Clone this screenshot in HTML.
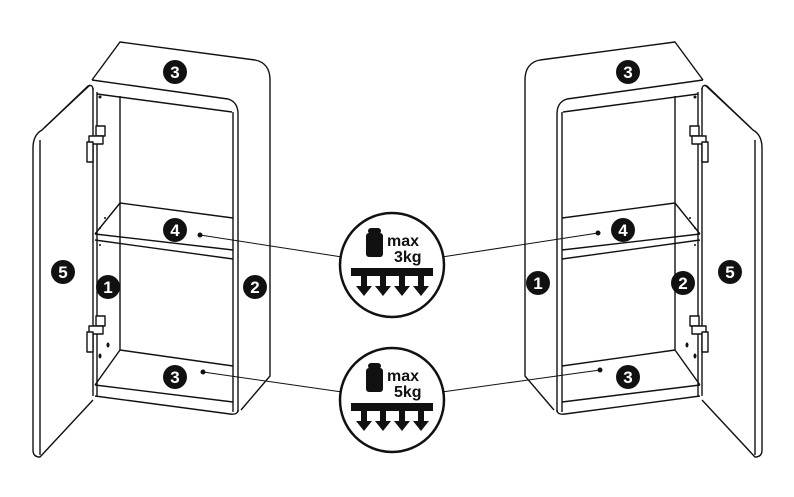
<!DOCTYPE html>
<html><head><meta charset="utf-8"><style>
html,body{margin:0;padding:0;background:#fff;width:794px;height:497px;overflow:hidden}
svg{display:block}
text{font-family:"Liberation Sans",sans-serif;font-weight:bold}
</style></head><body>
<svg width="794" height="497" viewBox="0 0 794 497" xmlns="http://www.w3.org/2000/svg">
<defs>
<g id="cab" fill="none" stroke="#111" stroke-width="1.4" stroke-linejoin="round">
  <path d="M92,80 L120,42 L255,60 Q270,63 270,80 L270,376 L241,410"/>
  <path d="M92,80 L228,99 Q238,102 238,114"/>
  <path d="M97,94 L232,112"/>
  <path d="M233,112 L233,412 M238,114 L238,412"/>
  <path d="M120,96 L120,350"/>
  <path d="M120,203 L233,218 M95,234 L120,203 M95,234 L233,250 M95,240 L233,259"/>
  <path d="M120,350 L233,366 M95,385 L120,350 M95,385 L233,402 M95,396 L230,414 Q238,415 238,410"/>
  <path d="M93,88 L93,396 M97,92 L97,396"/>
  <path d="M33,148 Q33,135 42,130 L88,86 Q93,84 93,90"/>
  <path d="M33,148 L33,450 Q33,457 40,457 L93,400"/>
  <path d="M40,140 L40,455"/>
  <path d="M44,128 L90,85"/>
  <g fill="#fff">
    <rect x="96" y="126" width="9" height="10"/><rect x="89" y="136" width="14" height="8"/><rect x="87" y="142" width="6" height="20"/>
    <rect x="96" y="316" width="9" height="10"/><rect x="89" y="326" width="14" height="8"/><rect x="87" y="332" width="6" height="20"/>
  </g>
  <g fill="#111" stroke="none">
    <circle cx="100" cy="97" r="1.5"/><circle cx="105" cy="218" r="1"/><circle cx="100" cy="228" r="1"/><circle cx="100" cy="245" r="1"/>
    <ellipse cx="108" cy="345" rx="1.5" ry="2.5"/><ellipse cx="100" cy="356" rx="1.5" ry="2.5"/>
  </g>
</g>
<g id="wt">
  <circle r="52" fill="#fff" stroke="#111" stroke-width="2.5"/>
  <rect x="-26" y="-32" width="17" height="24" rx="3" fill="#111"/>
  <rect x="-24" y="-37" width="13" height="6" rx="3" fill="#111"/>
  <rect x="-41" y="3" width="82" height="8" fill="#111"/>
  <g fill="#111">
    <path d="M-31,10h6v11h5l-8,10l-8,-10h5z"/>
    <path d="M-12,10h6v11h5l-8,10l-8,-10h5z"/>
    <path d="M7,10h6v11h5l-8,10l-8,-10h5z"/>
    <path d="M26,10h6v11h5l-8,10l-8,-10h5z"/>
  </g>
</g>
</defs>
<use href="#cab"/>
<use href="#cab" transform="translate(795,0) scale(-1,1)"/>

<g stroke="#111" stroke-width="1" fill="none">
  <line x1="200" y1="235" x2="342" y2="257"/>
  <line x1="203" y1="372" x2="342" y2="392"/>
  <line x1="598" y1="233" x2="442" y2="257"/>
  <line x1="600" y1="370" x2="442" y2="392"/>
</g>
<g fill="#111">
  <circle cx="200" cy="235" r="2.5"/><circle cx="203" cy="372" r="2.5"/>
  <circle cx="598" cy="233" r="2.5"/><circle cx="600" cy="370" r="2.5"/>
</g>

<g font-size="17" fill="#fff" text-anchor="middle">
  <circle cx="175" cy="72" r="12" fill="#111"/><text x="175" y="78">3</text>
  <circle cx="175" cy="230" r="12" fill="#111"/><text x="175" y="236">4</text>
  <circle cx="108" cy="287" r="12" fill="#111"/><text x="108" y="293">1</text>
  <circle cx="255" cy="287" r="12" fill="#111"/><text x="255" y="293">2</text>
  <circle cx="63" cy="272" r="12" fill="#111"/><text x="63" y="278">5</text>
  <circle cx="175" cy="377" r="12" fill="#111"/><text x="175" y="383">3</text>
  <circle cx="628" cy="72" r="12" fill="#111"/><text x="628" y="78">3</text>
  <circle cx="623" cy="230" r="12" fill="#111"/><text x="623" y="236">4</text>
  <circle cx="538" cy="283" r="12" fill="#111"/><text x="538" y="289">1</text>
  <circle cx="683" cy="283" r="12" fill="#111"/><text x="683" y="289">2</text>
  <circle cx="730" cy="272" r="12" fill="#111"/><text x="730" y="278">5</text>
  <circle cx="628" cy="377" r="12" fill="#111"/><text x="628" y="383">3</text>
</g>

<g transform="translate(392,265)">
  <use href="#wt"/>
  <text x="-5" y="-19" font-size="16" fill="#111">max</text>
  <text x="2" y="-3" font-size="16" fill="#111">3kg</text>
</g>
<g transform="translate(392,400)">
  <use href="#wt"/>
  <text x="-5" y="-19" font-size="16" fill="#111">max</text>
  <text x="2" y="-3" font-size="16" fill="#111">5kg</text>
</g>
</svg>
</body></html>
